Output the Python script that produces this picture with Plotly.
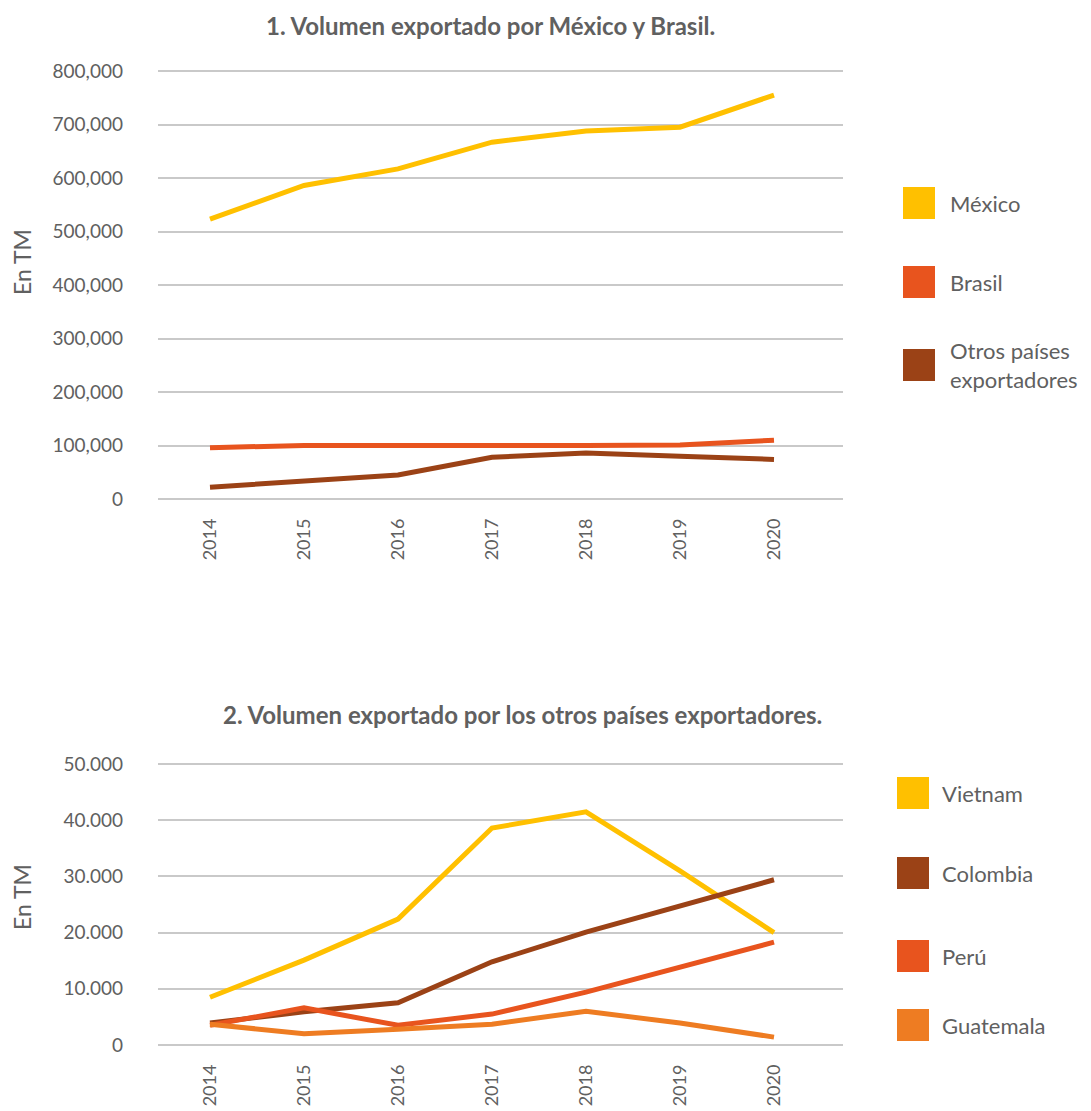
import plotly.graph_objects as go

# ---------------- data ----------------
years = [2014, 2015, 2016, 2017, 2018, 2019, 2020]

# Chart 1 (TM)
mexico = [523000, 586000, 617000, 667000, 688000, 695000, 755000]
brasil = [96000, 100000, 100000, 99000, 100000, 101000, 110000]
otros = [22000, 33000, 45000, 78000, 86000, 80000, 74000]
top_names = ["México", "Brasil", "Otros países<br>exportadores"]
top_ticks = [0, 100000, 200000, 300000, 400000, 500000, 600000, 700000, 800000]
top_ticktext = ["0", "100,000", "200,000", "300,000", "400,000", "500,000",
                "600,000", "700,000", "800,000"]

# Chart 2 (TM)
vietnam = [8500, 15100, 22400, 38600, 41500, 31000, 20000]
colombia = [3900, 5900, 7500, 14800, 20100, 24700, 29400]
peru = [3500, 6600, 3500, 5500, 9400, 13900, 18300]
guatemala = [3700, 2000, 2800, 3700, 6000, 3900, 1400]
bot_names = ["Vietnam", "Colombia", "Perú", "Guatemala"]
bot_ticks = [0, 10000, 20000, 30000, 40000, 50000]
bot_ticktext = ["0", "10.000", "20.000", "30.000", "40.000", "50.000"]

# ---------------- styles ----------------
GOLD = "#FFC000"
RED = "#E8541E"
BROWN = "#9B4216"
ORANGE = "#EE7C22"
TXT = "#606060"
GRID = "#C9C9C9"
FONT = "Lato"

W, H = 1091, 1111
OFF = 8  # page body offset
ML = 158 - OFF
MR = W - (843 - OFF)
MT, MB = 10, 10
PH = H - MT - MB
PW = W - ML - MR


def py(ypx):
    return (H - MB - (ypx - OFF)) / PH


def px(xpx):
    return ((xpx - OFF) - ML) / PW


fig = go.Figure()

top_series = [(mexico, GOLD), (brasil, RED), (otros, BROWN)]
for (vals, col), name in zip(top_series, top_names):
    fig.add_trace(go.Scatter(x=years, y=vals, mode="lines", name=name.replace("<br>", " "),
                             line=dict(color=col, width=5), xaxis="x", yaxis="y",
                             showlegend=False))

bot_series = [(vietnam, GOLD), (colombia, BROWN), (peru, RED), (guatemala, ORANGE)]
for (vals, col), name in zip(bot_series, bot_names):
    fig.add_trace(go.Scatter(x=years, y=vals, mode="lines", name=name,
                             line=dict(color=col, width=5), xaxis="x2", yaxis="y2",
                             showlegend=False))

xrange = [2014 - 52 / 94, 2020 + 69 / 94]
xaxis_common = dict(range=xrange, tickvals=years, ticktext=[str(y) for y in years],
                    tickangle=-90, showgrid=False, zeroline=False, showline=False,
                    ticks="", ticklabelstandoff=12,
                    tickfont=dict(family=FONT, size=18, color=TXT))

yaxis_common = dict(showgrid=True, gridcolor=GRID, gridwidth=2, zeroline=False,
                    showline=False, ticks="", ticklabelstandoff=34,
                    tickfont=dict(family=FONT, size=19, color=TXT))

top_pad = 800000 / 428 * 3
bot_pad = 50000 / 281 * 3

fig.update_layout(
    width=W, height=H,
    margin=dict(l=ML, r=MR, t=MT, b=MB, autoexpand=False),
    paper_bgcolor="white", plot_bgcolor="white",
    showlegend=False,
    xaxis=dict(domain=[0, 1], anchor="y", **xaxis_common),
    yaxis=dict(domain=[py(502), py(68)], anchor="x", range=[-top_pad, 800000 + top_pad],
               tickvals=top_ticks, ticktext=top_ticktext, **yaxis_common),
    xaxis2=dict(domain=[0, 1], anchor="y2", **xaxis_common),
    yaxis2=dict(domain=[py(1048), py(761)], anchor="x2", range=[-bot_pad, 50000 + bot_pad],
                tickvals=bot_ticks, ticktext=bot_ticktext, **yaxis_common),
)

annotations = []
shapes = []

# Titles
annotations.append(dict(text="<b>1. Volumen exportado por México y Brasil.</b>",
                        x=px(490), y=py(26), xref="paper", yref="paper",
                        xanchor="center", yanchor="middle",
                        showarrow=False, font=dict(family=FONT, size=24, color=TXT)))
annotations.append(dict(text="<b>2. Volumen exportado por los otros países exportadores.</b>",
                        x=px(522), y=py(714), xref="paper", yref="paper",
                        xanchor="center", yanchor="middle",
                        showarrow=False, font=dict(family=FONT, size=24, color=TXT)))

# Y titles
for ycen in (262, 897):
    annotations.append(dict(text="En TM", x=px(22), y=py(ycen), xref="paper", yref="paper",
                            xanchor="center", yanchor="middle",
                            showarrow=False, textangle=-90,
                            font=dict(family=FONT, size=23, color=TXT)))


def add_legend(series, names, ycs, sq_x, txt_x):
    for (vals, col), name, yc in zip(series, names, ycs):
        shapes.append(dict(type="rect", xref="paper", yref="paper",
                           x0=px(sq_x), x1=px(sq_x + 32), y0=py(yc + 16), y1=py(yc - 16),
                           fillcolor=col, line=dict(width=0)))
        annotations.append(dict(text=name, x=px(txt_x), y=py(yc), xref="paper",
                                yref="paper", xanchor="left", yanchor="middle",
                                align="left", showarrow=False,
                                font=dict(family=FONT, size=22, color=TXT)))


add_legend(top_series, top_names, [203, 282, 365], 903, 948)
add_legend(bot_series, bot_names, [793, 873, 956, 1025], 897, 940)

fig.update_layout(annotations=annotations, shapes=shapes)

fig.write_html("out.html")
